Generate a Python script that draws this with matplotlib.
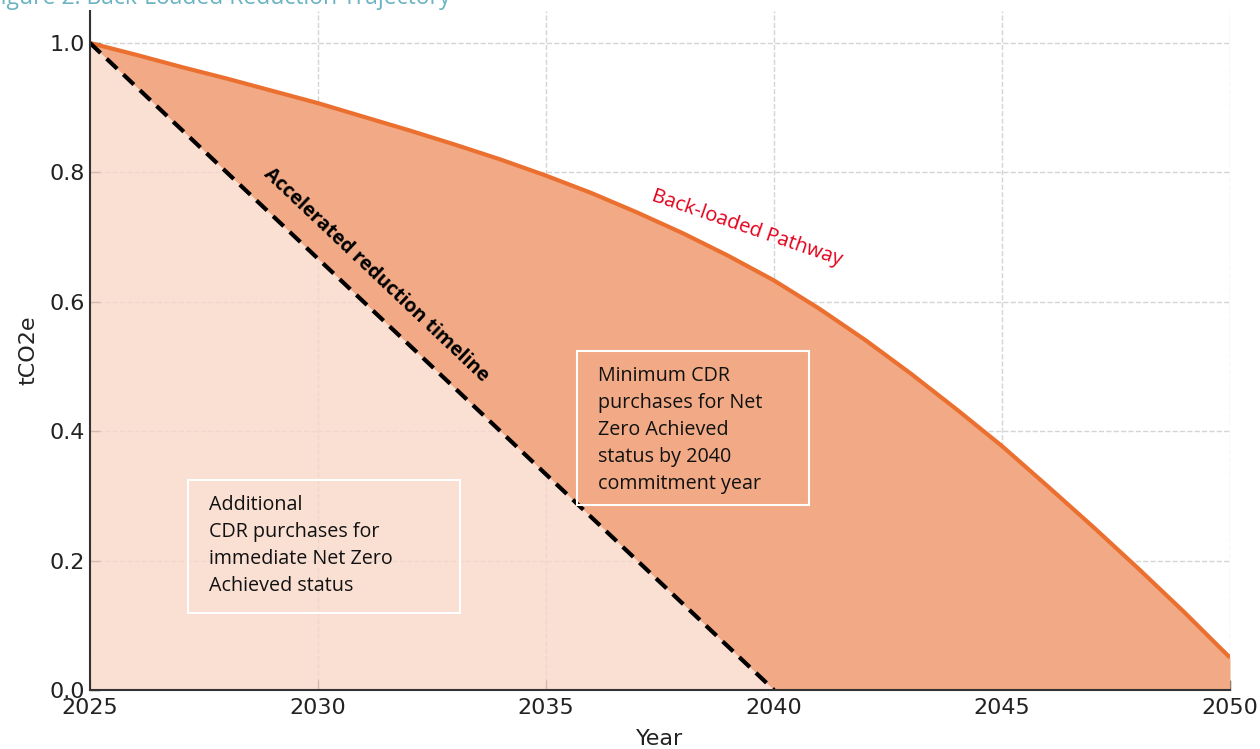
import numpy as np
import matplotlib
matplotlib.use("Agg")
from matplotlib import pyplot as plt
from matplotlib.patches import Rectangle

# back-loaded pathway, yearly values (tCO2e, normalised to 2025)
years = np.arange(2025, 2051)
backloaded = [1.000, 0.982, 0.963, 0.945, 0.926, 0.907, 0.886, 0.865, 0.843, 0.820,
              0.795, 0.768, 0.738, 0.706, 0.671, 0.633, 0.589, 0.541, 0.489, 0.434,
              0.377, 0.315, 0.252, 0.187, 0.120, 0.050]

# accelerated (linear) reduction timeline
accel_years = [2025, 2040]
accel_vals = [1.0, 0.0]

xticks = [2025, 2030, 2035, 2040, 2045, 2050]
yticks = [0.0, 0.2, 0.4, 0.6, 0.8, 1.0]

box_left_text = "Additional\nCDR purchases for\nimmediate Net Zero\nAchieved status"
box_right_text = "Minimum CDR\npurchases for Net\nZero Achieved\nstatus by 2040\ncommitment year"

orange = "#EB7030"
dark_fill = "#F1AA85"
light_fill = "#F9D8C9"
note_font = ["Open Sans", "DejaVu Sans"]

fig = plt.figure(figsize=(12.6, 7.49), dpi=100)
ax = fig.add_axes([0.0714, 0.0788, 0.9048, 0.907])

ax.set_xlim(2025, 2050)
ax.set_ylim(0, 1.05)

ax.grid(True, linestyle="--", color="#d4d4d4", linewidth=1.0, zorder=0)
ax.set_axisbelow(True)

# lower edge of the shaded band: accelerated line, zero after 2040
accel_on_years = np.interp(years, accel_years, accel_vals, right=0.0)

ax.fill_between(accel_years, accel_vals, 0, color=light_fill, alpha=0.8,
                linewidth=0, zorder=1)
ax.fill_between(years, accel_on_years, backloaded, color=dark_fill,
                linewidth=0, zorder=1)

ax.plot(years, backloaded, color=orange, linewidth=3, zorder=3,
        solid_capstyle="butt")
ax.plot(accel_years, accel_vals, color="black", linewidth=3,
        linestyle=(0, (3.5, 2)), zorder=3)

# note boxes
ax.add_patch(Rectangle((2027.15, 0.119), 5.96, 0.206, fill=False,
                       edgecolor="white", linewidth=1.5, zorder=4))
ax.add_patch(Rectangle((2035.68, 0.286), 5.09, 0.238, fill=False,
                       edgecolor="white", linewidth=1.5, zorder=4))
ax.text(2027.6, 0.302, box_left_text, ha="left", va="top", fontsize=14.2,
        family=note_font, color="#111111", linespacing=1.47, zorder=5)
ax.text(2036.14, 0.501, box_right_text, ha="left", va="top", fontsize=14.2,
        family=note_font, color="#111111", linespacing=1.47, zorder=5)

# rotated labels along the two pathways
fig.canvas.draw()
p1 = ax.transData.transform((accel_years[0], accel_vals[0]))
p2 = ax.transData.transform((accel_years[1], accel_vals[1]))
accel_angle = np.degrees(np.arctan2(p2[1] - p1[1], p2[0] - p1[0]))
ax.text(2031.28, 0.642, "Accelerated reduction timeline", rotation=accel_angle,
        rotation_mode="anchor", ha="center", va="center", fontsize=14,
        fontweight="bold", family=note_font, color="black", zorder=5)
ax.text(2039.4, 0.714, "Back-loaded Pathway", rotation=-19,
        rotation_mode="anchor", ha="center", va="center", fontsize=14.5,
        family=note_font, color="#E3001B", zorder=5)

ax.set_xticks(xticks)
ax.set_yticks(yticks)
ax.set_yticklabels([f"{v:.1f}" for v in yticks])
ax.tick_params(direction="in", length=7, width=1, colors="#444444",
               labelcolor="#222222", labelsize=16)
ax.tick_params(axis="x", pad=6)
ax.set_xlabel("Year", fontsize=16, color="#222222", labelpad=8)
ax.set_ylabel("tCO2e", fontsize=16, color="#222222", labelpad=8)

for side in ["top", "right"]:
    ax.spines[side].set_visible(False)
for side in ["left", "bottom"]:
    ax.spines[side].set_color("#333333")
    ax.spines[side].set_linewidth(1.5)
    ax.spines[side].set_zorder(4)

fig.text(-0.009, 0.995, "Figure 2. Back-Loaded Reduction Trajectory",
         ha="left", va="baseline", fontsize=16.5, family=note_font,
         color="#6BB3C2")

fig.savefig("out.png", dpi=100)
